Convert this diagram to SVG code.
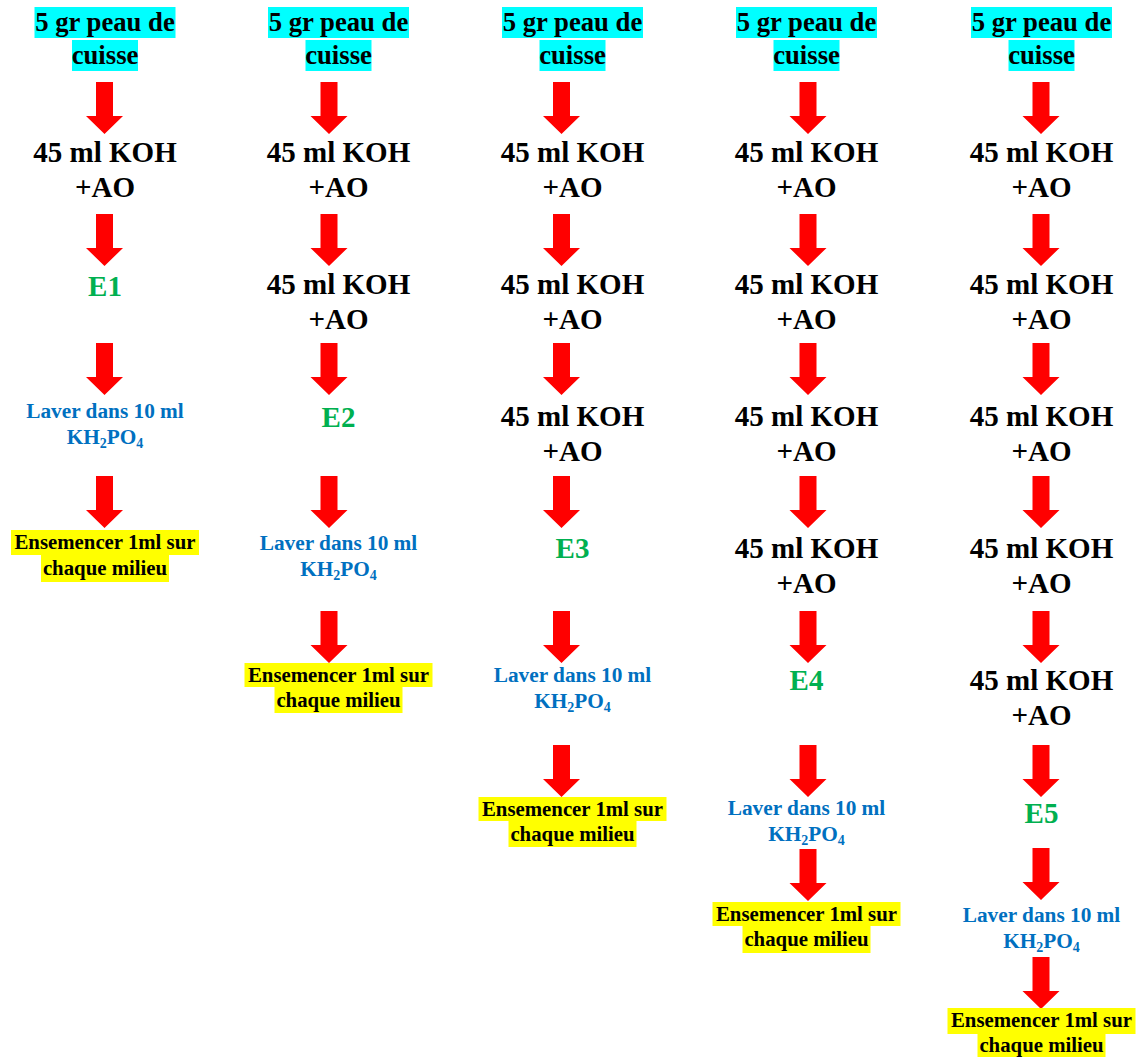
<svg xmlns="http://www.w3.org/2000/svg" width="1144" height="1059" viewBox="0 0 1144 1059" font-family="Liberation Serif, serif" font-weight="bold">
<style>
text{font-family:"Liberation Serif","Times New Roman",serif;font-weight:700;text-anchor:middle;fill:#000}
.title{font-size:26.7px}
.koh{font-size:29px}
.e{font-size:29px;fill:#00B050}
.lav{font-size:21.3px;fill:#0070C0}
.ens{font-size:20.8px}
.sub{font-size:14px}
.cy{fill:#00FFFF}
.ye{fill:#FFFF00}
.arr{fill:#FF0000}
</style>
<defs>
<path id="arr" class="arr" d="M-8.5 0H8.5V34H18.5L0 52L-18.5 34H-8.5Z"/>
</defs>
<rect width="1144" height="1059" fill="#fff"/>

<g id="connectors">
<use href="#arr" x="104.5" y="82"/><use href="#arr" x="104.5" y="214"/><use href="#arr" x="104.5" y="343"/><use href="#arr" x="104.5" y="476"/>
<use href="#arr" x="329" y="82"/><use href="#arr" x="329" y="214"/><use href="#arr" x="329" y="343"/><use href="#arr" x="329" y="476"/><use href="#arr" x="329" y="611"/>
<use href="#arr" x="561.5" y="82"/><use href="#arr" x="561.5" y="214"/><use href="#arr" x="561.5" y="343"/><use href="#arr" x="561.5" y="476"/><use href="#arr" x="561.5" y="611"/><use href="#arr" x="561.5" y="745"/>
<use href="#arr" x="808" y="82"/><use href="#arr" x="808" y="214"/><use href="#arr" x="808" y="343"/><use href="#arr" x="808" y="476"/><use href="#arr" x="808" y="611"/><use href="#arr" x="808" y="745"/><use href="#arr" x="808" y="849"/>
<use href="#arr" x="1041" y="82"/><use href="#arr" x="1041" y="214"/><use href="#arr" x="1041" y="343"/><use href="#arr" x="1041" y="476"/><use href="#arr" x="1041" y="611"/><use href="#arr" x="1041" y="745"/><use href="#arr" x="1041" y="848"/><use href="#arr" x="1041" y="957"/>
</g>

<g id="c1-title"><rect class="cy" x="34.5" y="7" width="141" height="31"/><rect class="cy" x="72" y="40" width="66" height="31"/>
<text class="title" x="105" y="31">5 gr peau de</text><text class="title" x="105" y="64">cuisse</text></g>
<g id="c1-koh1"><text class="koh" x="105" y="162">45 ml KOH</text><text class="koh" x="105" y="197">+AO</text></g>
<g id="c1-e"><text class="e" x="105" y="296">E1</text></g>
<g id="c1-laver"><text class="lav" x="105" y="418">Laver dans 10 ml</text><text class="lav" x="105" y="444">KH<tspan class="sub" dy="4">2</tspan><tspan dy="-4">PO</tspan><tspan class="sub" dy="4">4</tspan></text></g>
<g id="c1-ens"><rect class="ye" x="11" y="530" width="188" height="25"/><rect class="ye" x="41" y="555" width="128" height="27"/>
<text class="ens" x="105" y="549">Ensemencer 1ml sur</text><text class="ens" x="105" y="575">chaque milieu</text></g>

<g id="c2-title"><rect class="cy" x="268" y="7" width="141" height="31"/><rect class="cy" x="305.5" y="40" width="66" height="31"/>
<text class="title" x="338.5" y="31">5 gr peau de</text><text class="title" x="338.5" y="64">cuisse</text></g>
<g id="c2-koh1"><text class="koh" x="338.5" y="162">45 ml KOH</text><text class="koh" x="338.5" y="197">+AO</text></g>
<g id="c2-koh2"><text class="koh" x="338.5" y="294">45 ml KOH</text><text class="koh" x="338.5" y="329">+AO</text></g>
<g id="c2-e"><text class="e" x="338.5" y="427">E2</text></g>
<g id="c2-laver"><text class="lav" x="338.5" y="550">Laver dans 10 ml</text><text class="lav" x="338.5" y="576">KH<tspan class="sub" dy="4">2</tspan><tspan dy="-4">PO</tspan><tspan class="sub" dy="4">4</tspan></text></g>
<g id="c2-ens"><rect class="ye" x="244.5" y="663" width="188" height="24"/><rect class="ye" x="274.5" y="687" width="128" height="26"/>
<text class="ens" x="338.5" y="682">Ensemencer 1ml sur</text><text class="ens" x="338.5" y="707">chaque milieu</text></g>

<g id="c3-title"><rect class="cy" x="502" y="7" width="141" height="31"/><rect class="cy" x="539.5" y="40" width="66" height="31"/>
<text class="title" x="572.5" y="31">5 gr peau de</text><text class="title" x="572.5" y="64">cuisse</text></g>
<g id="c3-koh1"><text class="koh" x="572.5" y="162">45 ml KOH</text><text class="koh" x="572.5" y="197">+AO</text></g>
<g id="c3-koh2"><text class="koh" x="572.5" y="294">45 ml KOH</text><text class="koh" x="572.5" y="329">+AO</text></g>
<g id="c3-koh3"><text class="koh" x="572.5" y="426">45 ml KOH</text><text class="koh" x="572.5" y="461">+AO</text></g>
<g id="c3-e"><text class="e" x="572.5" y="558">E3</text></g>
<g id="c3-laver"><text class="lav" x="572.5" y="682">Laver dans 10 ml</text><text class="lav" x="572.5" y="708">KH<tspan class="sub" dy="4">2</tspan><tspan dy="-4">PO</tspan><tspan class="sub" dy="4">4</tspan></text></g>
<g id="c3-ens"><rect class="ye" x="478.5" y="797" width="188" height="24"/><rect class="ye" x="508.5" y="821" width="128" height="26"/>
<text class="ens" x="572.5" y="816">Ensemencer 1ml sur</text><text class="ens" x="572.5" y="841">chaque milieu</text></g>

<g id="c4-title"><rect class="cy" x="736" y="7" width="141" height="31"/><rect class="cy" x="773.5" y="40" width="66" height="31"/>
<text class="title" x="806.5" y="31">5 gr peau de</text><text class="title" x="806.5" y="64">cuisse</text></g>
<g id="c4-koh1"><text class="koh" x="806.5" y="162">45 ml KOH</text><text class="koh" x="806.5" y="197">+AO</text></g>
<g id="c4-koh2"><text class="koh" x="806.5" y="294">45 ml KOH</text><text class="koh" x="806.5" y="329">+AO</text></g>
<g id="c4-koh3"><text class="koh" x="806.5" y="426">45 ml KOH</text><text class="koh" x="806.5" y="461">+AO</text></g>
<g id="c4-koh4"><text class="koh" x="806.5" y="558">45 ml KOH</text><text class="koh" x="806.5" y="593">+AO</text></g>
<g id="c4-e"><text class="e" x="806.5" y="690">E4</text></g>
<g id="c4-laver"><text class="lav" x="806.5" y="815">Laver dans 10 ml</text><text class="lav" x="806.5" y="841">KH<tspan class="sub" dy="4">2</tspan><tspan dy="-4">PO</tspan><tspan class="sub" dy="4">4</tspan></text></g>
<g id="c4-ens"><rect class="ye" x="712.5" y="902" width="188" height="24"/><rect class="ye" x="742.5" y="926" width="128" height="27"/>
<text class="ens" x="806.5" y="921">Ensemencer 1ml sur</text><text class="ens" x="806.5" y="946">chaque milieu</text></g>

<g id="c5-title"><rect class="cy" x="971" y="7" width="141" height="31"/><rect class="cy" x="1008.5" y="40" width="66" height="31"/>
<text class="title" x="1041.5" y="31">5 gr peau de</text><text class="title" x="1041.5" y="64">cuisse</text></g>
<g id="c5-koh1"><text class="koh" x="1041.5" y="162">45 ml KOH</text><text class="koh" x="1041.5" y="197">+AO</text></g>
<g id="c5-koh2"><text class="koh" x="1041.5" y="294">45 ml KOH</text><text class="koh" x="1041.5" y="329">+AO</text></g>
<g id="c5-koh3"><text class="koh" x="1041.5" y="426">45 ml KOH</text><text class="koh" x="1041.5" y="461">+AO</text></g>
<g id="c5-koh4"><text class="koh" x="1041.5" y="558">45 ml KOH</text><text class="koh" x="1041.5" y="593">+AO</text></g>
<g id="c5-koh5"><text class="koh" x="1041.5" y="690">45 ml KOH</text><text class="koh" x="1041.5" y="725">+AO</text></g>
<g id="c5-e"><text class="e" x="1041.5" y="823">E5</text></g>
<g id="c5-laver"><text class="lav" x="1041.5" y="922">Laver dans 10 ml</text><text class="lav" x="1041.5" y="948">KH<tspan class="sub" dy="4">2</tspan><tspan dy="-4">PO</tspan><tspan class="sub" dy="4">4</tspan></text></g>
<g id="c5-ens"><rect class="ye" x="947.5" y="1008" width="188" height="26"/><rect class="ye" x="977.5" y="1034" width="128" height="23"/>
<text class="ens" x="1041.5" y="1027">Ensemencer 1ml sur</text><text class="ens" x="1041.5" y="1052">chaque milieu</text></g>
</svg>
